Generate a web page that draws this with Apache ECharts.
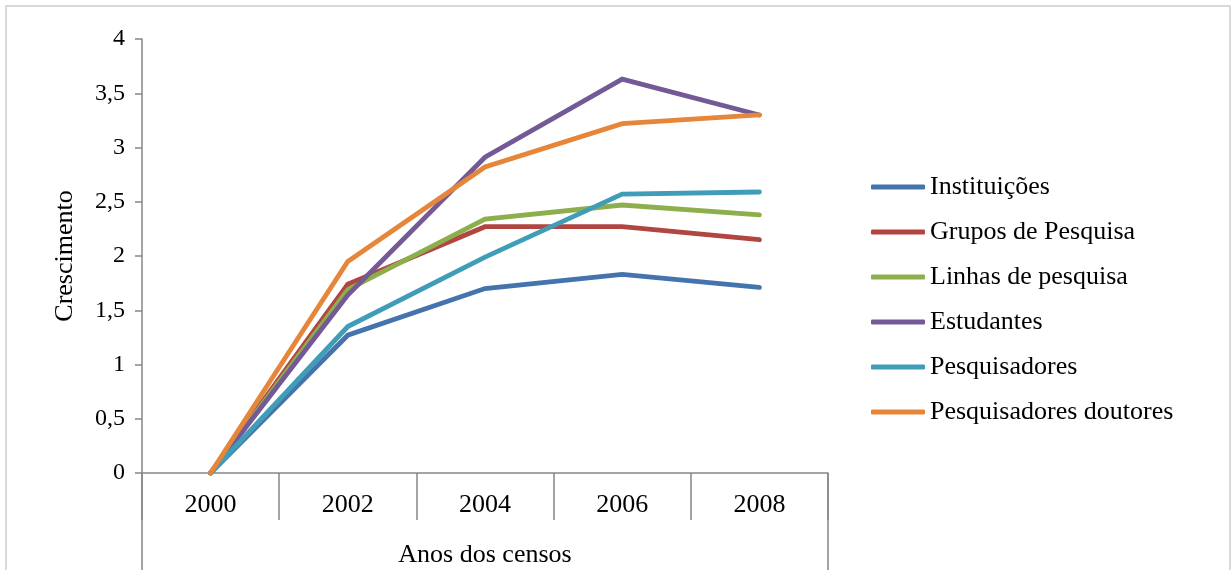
<!DOCTYPE html>
<html>
<head>
<meta charset="utf-8">
<script src="https://cdn.jsdelivr.net/npm/echarts@6/dist/echarts.min.js"></script>
<style>
  html, body { margin: 0; padding: 0; background: #ffffff; }
  #chart { width: 1232px; height: 570px; }
</style>
</head>
<body>
<div id="chart"></div>
<script>
// Census years (category axis)
const anos = ['2000', '2002', '2004', '2006', '2008'];

// Growth of each indicator relative to 2000
const instituicoes = [0, 1.27, 1.70, 1.83, 1.71];
const gruposPesquisa = [0, 1.74, 2.27, 2.27, 2.15];
const linhasPesquisa = [0, 1.69, 2.34, 2.47, 2.38];
const estudantes = [0, 1.64, 2.91, 3.63, 3.30];
const pesquisadores = [0, 1.35, 1.99, 2.57, 2.59];
const pesquisadoresDoutores = [0, 1.95, 2.82, 3.22, 3.30];

const nomesSeries = ['Instituições', 'Grupos de Pesquisa', 'Linhas de pesquisa',
  'Estudantes', 'Pesquisadores', 'Pesquisadores doutores'];
const valoresSeries = [instituicoes, gruposPesquisa, linhasPesquisa,
  estudantes, pesquisadores, pesquisadoresDoutores];
const cores = ['#4573AE', '#B04541', '#8DAE4D', '#735A96', '#3F9DB8', '#E5863A'];

const W = 1232, H = 570;
const GRID = { left: 142, right: 404, top: 39, bottom: 97 };
const FONT = '"Liberation Serif", "Times New Roman", serif';
const AXIS_GRAY = '#868686';

const chart = echarts.init(document.getElementById('chart'), null, { renderer: 'canvas' });

const gridRight = W - GRID.right;
const gridBottom = H - GRID.bottom;

chart.setOption({
  animation: false,
  color: cores,
  textStyle: { fontFamily: FONT },
  grid: {
    left: GRID.left, right: GRID.right, top: GRID.top, bottom: GRID.bottom,
    containLabel: false, outerBoundsMode: 'none'
  },
  legend: {
    orient: 'vertical',
    left: 866,
    top: 167,
    icon: 'roundRect',
    itemWidth: 54,
    itemHeight: 5,
    itemGap: 15,
    textStyle: { fontFamily: FONT, fontSize: 26, color: '#000', lineHeight: 30 },
    data: nomesSeries
  },
  xAxis: {
    type: 'category',
    data: anos,
    boundaryGap: true,
    name: 'Anos dos censos',
    nameLocation: 'middle',
    nameGap: 69,
    nameTextStyle: { fontFamily: FONT, fontSize: 26, color: '#000' },
    axisLine: { show: true, lineStyle: { color: AXIS_GRAY, width: 1.5 } },
    axisTick: { show: true, length: 47, lineStyle: { color: AXIS_GRAY, width: 1.5 } },
    axisLabel: { fontFamily: FONT, fontSize: 26, color: '#000', margin: 19 },
    splitLine: { show: false }
  },
  yAxis: {
    type: 'value',
    min: 0,
    max: 4,
    interval: 0.5,
    name: 'Crescimento',
    nameLocation: 'middle',
    nameGap: 64,
    nameRotate: 90,
    nameTextStyle: { fontFamily: FONT, fontSize: 26, color: '#000' },
    axisLine: { show: true, lineStyle: { color: AXIS_GRAY, width: 1.5 } },
    axisTick: { show: true, length: 7, lineStyle: { color: AXIS_GRAY, width: 1.5 } },
    axisLabel: {
      fontFamily: FONT, fontSize: 24, color: '#000', margin: 17,
      formatter: v => String(v).replace('.', ',')
    },
    splitLine: { show: false }
  },
  series: nomesSeries.map((nome, i) => ({
    name: nome,
    type: 'line',
    data: valoresSeries[i],
    showSymbol: false,
    symbol: 'none',
    lineStyle: { width: 4.8, color: cores[i], cap: 'round', join: 'miter' },
    itemStyle: { color: cores[i] }
  })),
  graphic: [
    // outer frame of the chart area
    {
      type: 'rect', silent: true,
      shape: { x: 6, y: 6, width: 1224, height: 640 },
      style: { fill: 'none', stroke: '#d9d9d9', lineWidth: 2 }
    },
    // outer edges of the two-level category axis
    {
      type: 'line', silent: true,
      shape: { x1: GRID.left, y1: gridBottom, x2: GRID.left, y2: H },
      style: { stroke: AXIS_GRAY, lineWidth: 1.5 }
    },
    {
      type: 'line', silent: true,
      shape: { x1: gridRight, y1: gridBottom, x2: gridRight, y2: H },
      style: { stroke: AXIS_GRAY, lineWidth: 1.5 }
    }
  ]
});
</script>
</body>
</html>
